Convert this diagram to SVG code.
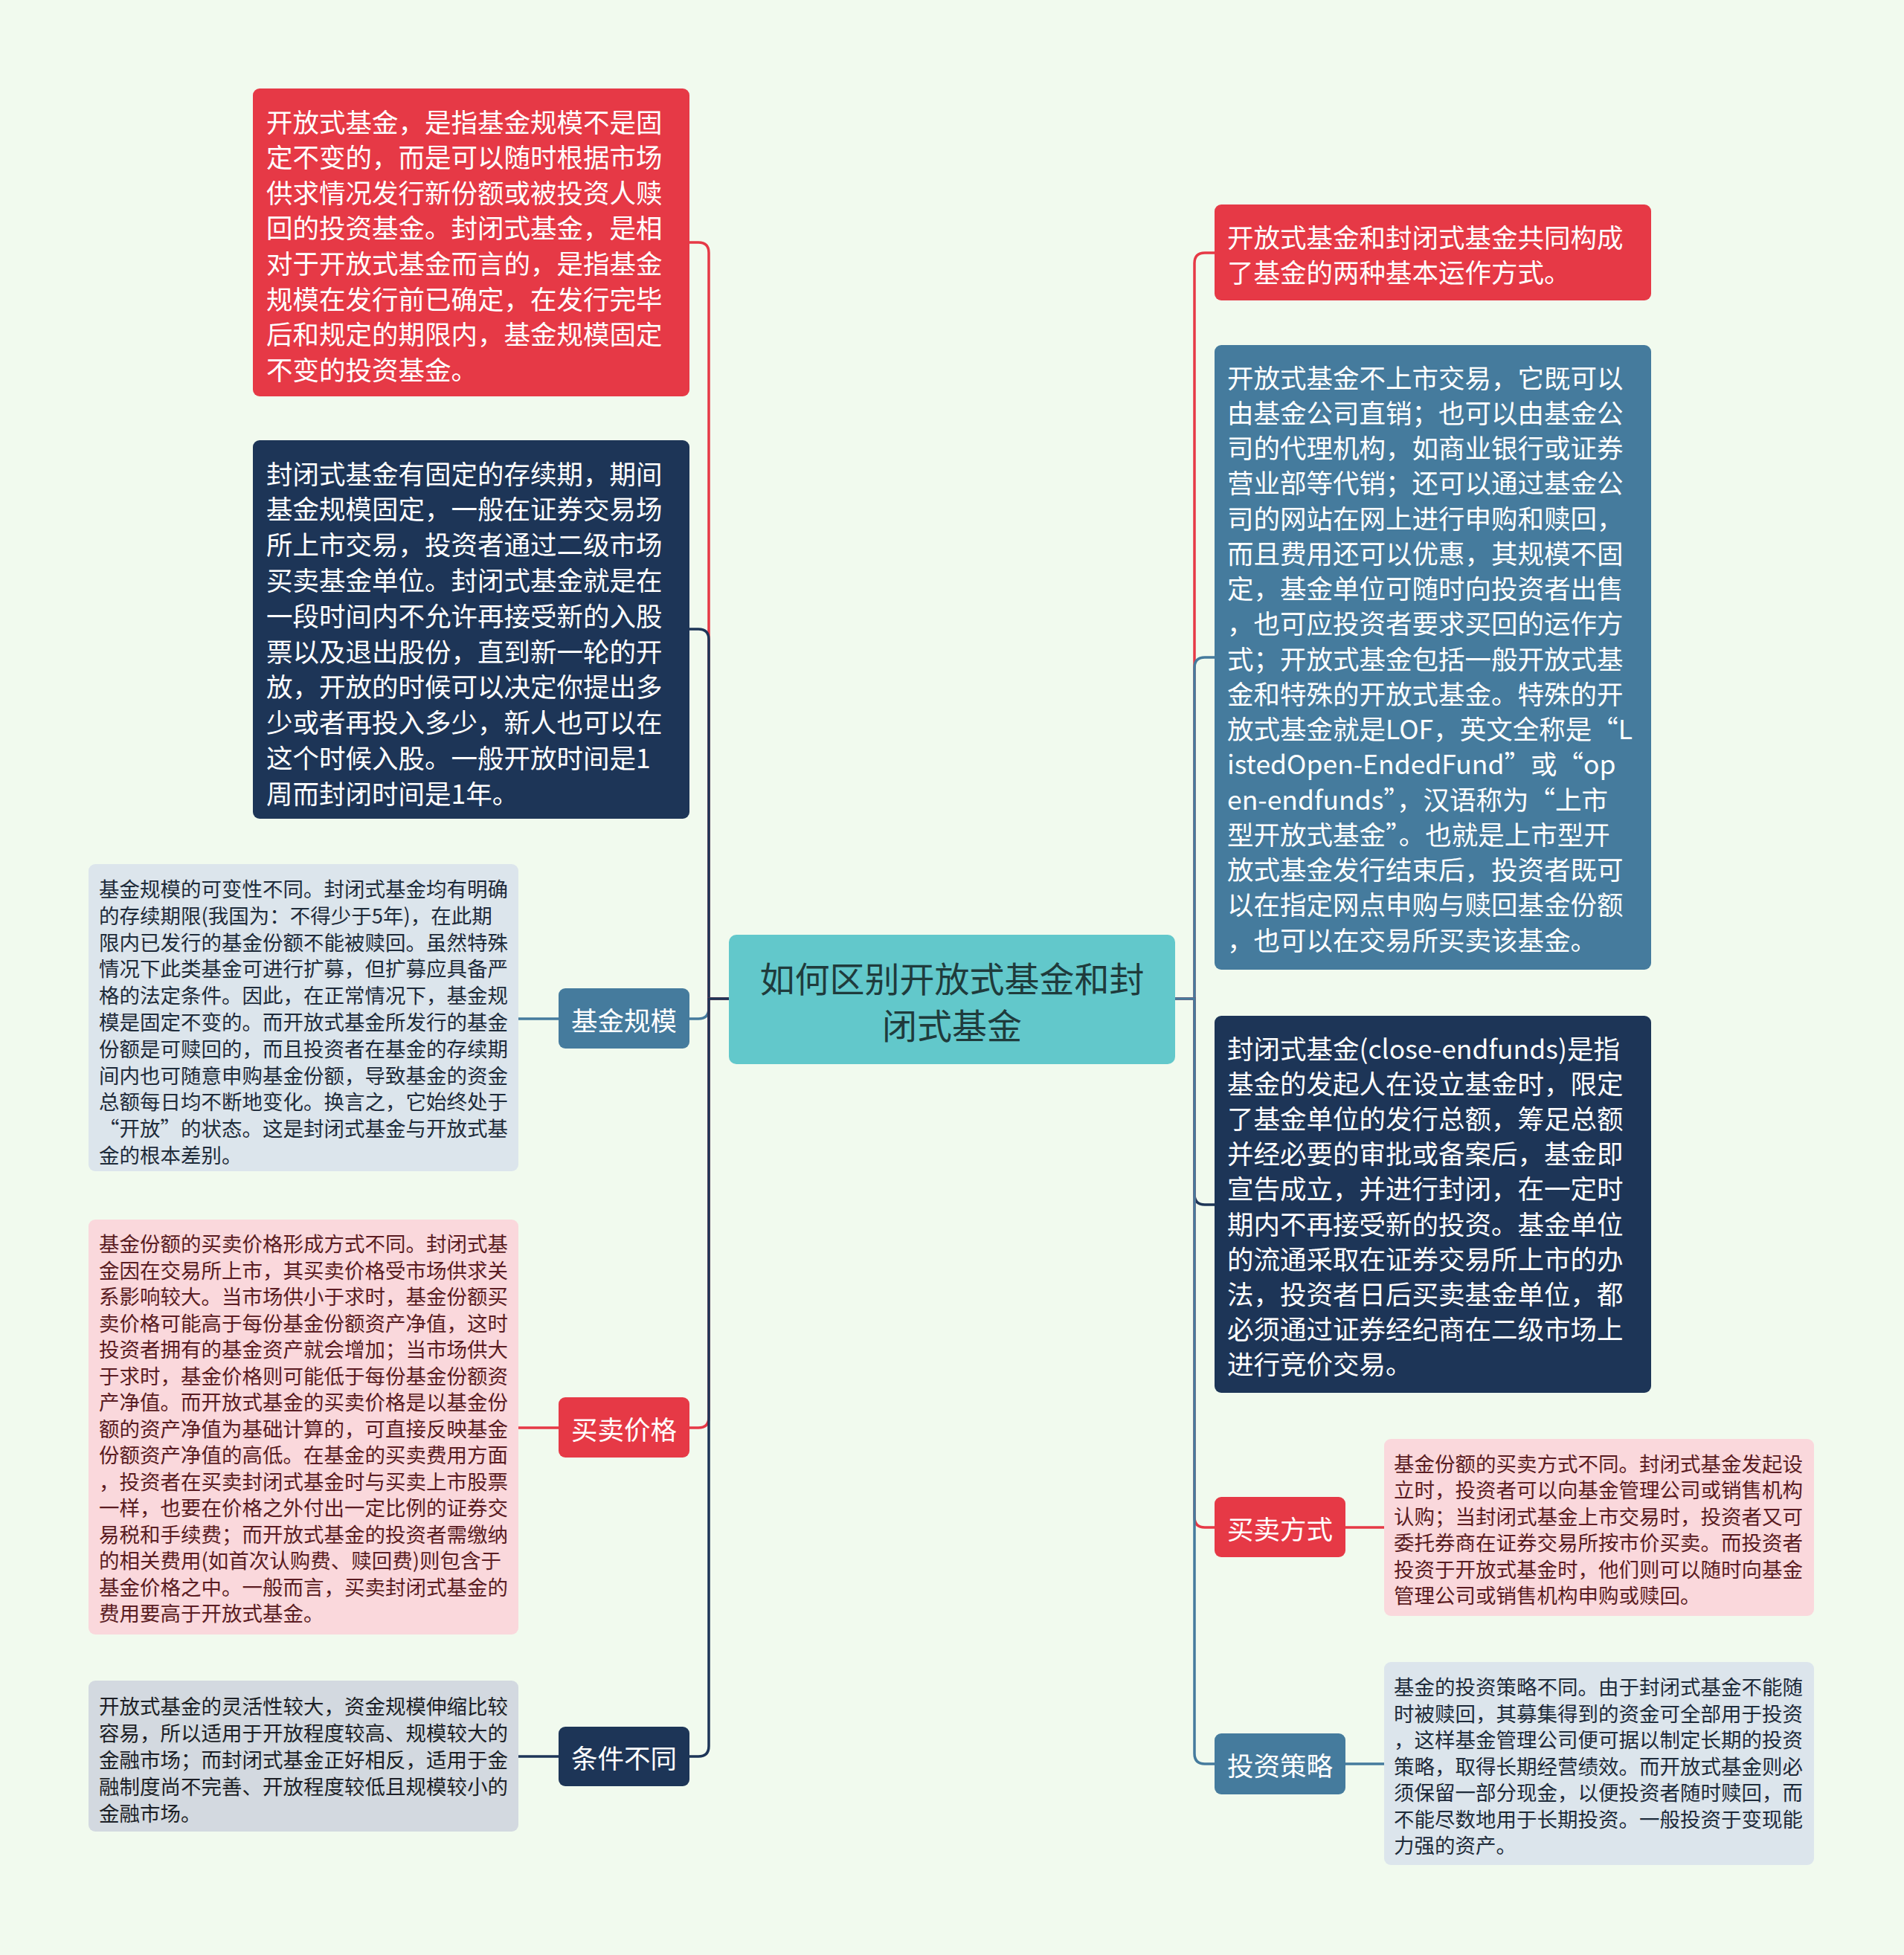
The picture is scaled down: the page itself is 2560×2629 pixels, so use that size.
<svg xmlns="http://www.w3.org/2000/svg" width="2560" height="2629" viewBox="0 0 2560 2629">
<style>
text{font-family:"Noto Sans CJK SC","Noto Sans",sans-serif;dominant-baseline:central}
.big{font-size:35.5px;fill:#ffffff}
.lbl{font-size:35.5px;fill:#ffffff;text-anchor:middle}
.root{font-size:47px;fill:#1f3b3c;text-anchor:middle}
.sm{font-size:27.5px}
.tp{fill:#5a1c22}
.tb{fill:#1e2b3a}
.tg{fill:#1c1f26}
.red{fill:#e63946}
.navy{fill:#1d3557}
.blue{fill:#457b9d}
.teal{fill:#62c8cb}
.pink{fill:#fad8dc}
.lblue{fill:#dce5ec}
.grey{fill:#d3d9e0}
.c{fill:none;stroke-width:3.5}
.cr{stroke:#e63946}
.cn{stroke:#1d3557}
.cb{stroke:#457b9d}
</style>
<rect x="0" y="0" width="2560" height="2629" fill="#f1faee"/>
<g id="connectors">
<path class="c cr" d="M980 1343 H953 V340 Q953 326 939 326 H927"/>
<path class="c cn" d="M980 1343 H953 V860 Q953 846 939 846 H927"/>
<path class="c cb" d="M980 1343 H953 V1356 Q953 1370 939 1370 H927"/>
<path class="c cr" d="M980 1343 H953 V1906 Q953 1920 939 1920 H927"/>
<path class="c cn" d="M980 1343 H953 V2348 Q953 2362 939 2362 H927"/>
<path class="c cr" d="M1580 1343 H1606 V354 Q1606 340 1620 340 H1633"/>
<path class="c cb" d="M1580 1343 H1606 V898 Q1606 884 1620 884 H1633"/>
<path class="c cn" d="M1580 1343 H1606 V1606 Q1606 1620 1620 1620 H1633"/>
<path class="c cr" d="M1580 1343 H1606 V2040 Q1606 2054 1620 2054 H1633"/>
<path class="c cb" d="M1580 1343 H1606 V2358 Q1606 2372 1620 2372 H1633"/>
<path class="c cb" d="M751 1370 H697"/>
<path class="c cr" d="M751 1920 H697"/>
<path class="c cn" d="M751 2362 H697"/>
<path class="c cr" d="M1809 2054 H1861"/>
<path class="c cb" d="M1809 2372 H1861"/>
</g>
<g id="root">
<rect class="teal" x="980" y="1257" width="600" height="174" rx="10"/>
<text class="root" x="1280" y="1313">如何区别开放式基金和封</text>
<text class="root" x="1280" y="1376">闭式基金</text>
</g>
<g id="left-open-def">
<rect class="red" x="340" y="119" width="587" height="414" rx="9"/>
<text class="big" x="358" y="162">开放式基金，是指基金规模不是固</text>
<text class="big" x="358" y="209.6">定不变的，而是可以随时根据市场</text>
<text class="big" x="358" y="257.2">供求情况发行新份额或被投资人赎</text>
<text class="big" x="358" y="304.8">回的投资基金。封闭式基金，是相</text>
<text class="big" x="358" y="352.4">对于开放式基金而言的，是指基金</text>
<text class="big" x="358" y="400">规模在发行前已确定，在发行完毕</text>
<text class="big" x="358" y="447.6">后和规定的期限内，基金规模固定</text>
<text class="big" x="358" y="495.2">不变的投资基金。</text>
</g>
<g id="left-closed-def">
<rect class="navy" x="340" y="592" width="587" height="509" rx="9"/>
<text class="big" x="358" y="635">封闭式基金有固定的存续期，期间</text>
<text class="big" x="358" y="682.8">基金规模固定，一般在证券交易场</text>
<text class="big" x="358" y="730.6">所上市交易，投资者通过二级市场</text>
<text class="big" x="358" y="778.4">买卖基金单位。封闭式基金就是在</text>
<text class="big" x="358" y="826.2">一段时间内不允许再接受新的入股</text>
<text class="big" x="358" y="874">票以及退出股份，直到新一轮的开</text>
<text class="big" x="358" y="921.8">放，开放的时候可以决定你提出多</text>
<text class="big" x="358" y="969.6">少或者再投入多少，新人也可以在</text>
<text class="big" x="358" y="1017.4">这个时候入股。一般开放时间是1</text>
<text class="big" x="358" y="1065.2">周而封闭时间是1年。</text>
</g>
<g id="scale">
<rect class="blue" x="751" y="1329" width="176" height="81" rx="9"/>
<text class="lbl" x="839" y="1370">基金规模</text>
</g>
<g id="scale-detail">
<rect class="lblue" x="119" y="1162" width="578" height="413" rx="9"/>
<text class="sm tb" x="133" y="1194">基金规模的可变性不同。封闭式基金均有明确</text>
<text class="sm tb" x="133" y="1229.8">的存续期限(我国为：不得少于5年)，在此期</text>
<text class="sm tb" x="133" y="1265.6">限内已发行的基金份额不能被赎回。虽然特殊</text>
<text class="sm tb" x="133" y="1301.4">情况下此类基金可进行扩募，但扩募应具备严</text>
<text class="sm tb" x="133" y="1337.2">格的法定条件。因此，在正常情况下，基金规</text>
<text class="sm tb" x="133" y="1373">模是固定不变的。而开放式基金所发行的基金</text>
<text class="sm tb" x="133" y="1408.8">份额是可赎回的，而且投资者在基金的存续期</text>
<text class="sm tb" x="133" y="1444.6">间内也可随意申购基金份额，导致基金的资金</text>
<text class="sm tb" x="133" y="1480.4">总额每日均不断地变化。换言之，它始终处于</text>
<text class="sm tb" x="133" y="1516.2">“开放”的状态。这是封闭式基金与开放式基</text>
<text class="sm tb" x="133" y="1552">金的根本差别。</text>
</g>
<g id="price">
<rect class="red" x="751" y="1879" width="176" height="81" rx="9"/>
<text class="lbl" x="839" y="1920">买卖价格</text>
</g>
<g id="price-detail">
<rect class="pink" x="119" y="1640" width="578" height="558" rx="9"/>
<text class="sm tp" x="133" y="1671">基金份额的买卖价格形成方式不同。封闭式基</text>
<text class="sm tp" x="133" y="1706.5">金因在交易所上市，其买卖价格受市场供求关</text>
<text class="sm tp" x="133" y="1742">系影响较大。当市场供小于求时，基金份额买</text>
<text class="sm tp" x="133" y="1777.5">卖价格可能高于每份基金份额资产净值，这时</text>
<text class="sm tp" x="133" y="1813">投资者拥有的基金资产就会增加；当市场供大</text>
<text class="sm tp" x="133" y="1848.5">于求时，基金价格则可能低于每份基金份额资</text>
<text class="sm tp" x="133" y="1884">产净值。而开放式基金的买卖价格是以基金份</text>
<text class="sm tp" x="133" y="1919.5">额的资产净值为基础计算的，可直接反映基金</text>
<text class="sm tp" x="133" y="1955">份额资产净值的高低。在基金的买卖费用方面</text>
<text class="sm tp" x="133" y="1990.5">，投资者在买卖封闭式基金时与买卖上市股票</text>
<text class="sm tp" x="133" y="2026">一样，也要在价格之外付出一定比例的证券交</text>
<text class="sm tp" x="133" y="2061.5">易税和手续费；而开放式基金的投资者需缴纳</text>
<text class="sm tp" x="133" y="2097">的相关费用(如首次认购费、赎回费)则包含于</text>
<text class="sm tp" x="133" y="2132.5">基金价格之中。一般而言，买卖封闭式基金的</text>
<text class="sm tp" x="133" y="2168">费用要高于开放式基金。</text>
</g>
<g id="condition">
<rect class="navy" x="751" y="2322" width="176" height="80" rx="9"/>
<text class="lbl" x="839" y="2362">条件不同</text>
</g>
<g id="condition-detail">
<rect class="grey" x="119" y="2260" width="578" height="203" rx="9"/>
<text class="sm tg" x="133" y="2293">开放式基金的灵活性较大，资金规模伸缩比较</text>
<text class="sm tg" x="133" y="2329">容易，所以适用于开放程度较高、规模较大的</text>
<text class="sm tg" x="133" y="2365">金融市场；而封闭式基金正好相反，适用于金</text>
<text class="sm tg" x="133" y="2401">融制度尚不完善、开放程度较低且规模较小的</text>
<text class="sm tg" x="133" y="2437">金融市场。</text>
</g>
<g id="right-modes">
<rect class="red" x="1633" y="275" width="587" height="129" rx="9"/>
<text class="big" x="1650" y="317">开放式基金和封闭式基金共同构成</text>
<text class="big" x="1650" y="364">了基金的两种基本运作方式。</text>
</g>
<g id="right-open">
<rect class="blue" x="1633" y="464" width="587" height="840" rx="9"/>
<text class="big" x="1650" y="506">开放式基金不上市交易，它既可以</text>
<text class="big" x="1650" y="553.25">由基金公司直销；也可以由基金公</text>
<text class="big" x="1650" y="600.5">司的代理机构，如商业银行或证券</text>
<text class="big" x="1650" y="647.75">营业部等代销；还可以通过基金公</text>
<text class="big" x="1650" y="695">司的网站在网上进行申购和赎回，</text>
<text class="big" x="1650" y="742.25">而且费用还可以优惠，其规模不固</text>
<text class="big" x="1650" y="789.5">定，基金单位可随时向投资者出售</text>
<text class="big" x="1650" y="836.75">，也可应投资者要求买回的运作方</text>
<text class="big" x="1650" y="884">式；开放式基金包括一般开放式基</text>
<text class="big" x="1650" y="931.25">金和特殊的开放式基金。特殊的开</text>
<text class="big" x="1650" y="978.5">放式基金就是LOF，英文全称是“L</text>
<text class="big" x="1650" y="1025.75">istedOpen-EndedFund”或“op</text>
<text class="big" x="1650" y="1073">en-endfunds”，汉语称为“上市</text>
<text class="big" x="1650" y="1120.25">型开放式基金”。也就是上市型开</text>
<text class="big" x="1650" y="1167.5">放式基金发行结束后，投资者既可</text>
<text class="big" x="1650" y="1214.75">以在指定网点申购与赎回基金份额</text>
<text class="big" x="1650" y="1262">，也可以在交易所买卖该基金。</text>
</g>
<g id="right-closed">
<rect class="navy" x="1633" y="1366" width="587" height="507" rx="9"/>
<text class="big" x="1650" y="1408">封闭式基金(close-endfunds)是指</text>
<text class="big" x="1650" y="1455.2">基金的发起人在设立基金时，限定</text>
<text class="big" x="1650" y="1502.4">了基金单位的发行总额，筹足总额</text>
<text class="big" x="1650" y="1549.6">并经必要的审批或备案后，基金即</text>
<text class="big" x="1650" y="1596.8">宣告成立，并进行封闭，在一定时</text>
<text class="big" x="1650" y="1644">期内不再接受新的投资。基金单位</text>
<text class="big" x="1650" y="1691.2">的流通采取在证券交易所上市的办</text>
<text class="big" x="1650" y="1738.4">法，投资者日后买卖基金单位，都</text>
<text class="big" x="1650" y="1785.6">必须通过证券经纪商在二级市场上</text>
<text class="big" x="1650" y="1832.8">进行竞价交易。</text>
</g>
<g id="trade">
<rect class="red" x="1633" y="2013" width="176" height="81" rx="9"/>
<text class="lbl" x="1721" y="2054">买卖方式</text>
</g>
<g id="trade-detail">
<rect class="pink" x="1861" y="1935" width="578" height="238" rx="9"/>
<text class="sm tp" x="1874" y="1967">基金份额的买卖方式不同。封闭式基金发起设</text>
<text class="sm tp" x="1874" y="2002.4">立时，投资者可以向基金管理公司或销售机构</text>
<text class="sm tp" x="1874" y="2037.8">认购；当封闭式基金上市交易时，投资者又可</text>
<text class="sm tp" x="1874" y="2073.2">委托券商在证券交易所按市价买卖。而投资者</text>
<text class="sm tp" x="1874" y="2108.6">投资于开放式基金时，他们则可以随时向基金</text>
<text class="sm tp" x="1874" y="2144">管理公司或销售机构申购或赎回。</text>
</g>
<g id="strategy">
<rect class="blue" x="1633" y="2331" width="176" height="82" rx="9"/>
<text class="lbl" x="1721" y="2372">投资策略</text>
</g>
<g id="strategy-detail">
<rect class="lblue" x="1861" y="2235" width="578" height="273" rx="9"/>
<text class="sm tb" x="1874" y="2267">基金的投资策略不同。由于封闭式基金不能随</text>
<text class="sm tb" x="1874" y="2302.5">时被赎回，其募集得到的资金可全部用于投资</text>
<text class="sm tb" x="1874" y="2338">，这样基金管理公司便可据以制定长期的投资</text>
<text class="sm tb" x="1874" y="2373.5">策略，取得长期经营绩效。而开放式基金则必</text>
<text class="sm tb" x="1874" y="2409">须保留一部分现金，以便投资者随时赎回，而</text>
<text class="sm tb" x="1874" y="2444.5">不能尽数地用于长期投资。一般投资于变现能</text>
<text class="sm tb" x="1874" y="2480">力强的资产。</text>
</g>
</svg>
